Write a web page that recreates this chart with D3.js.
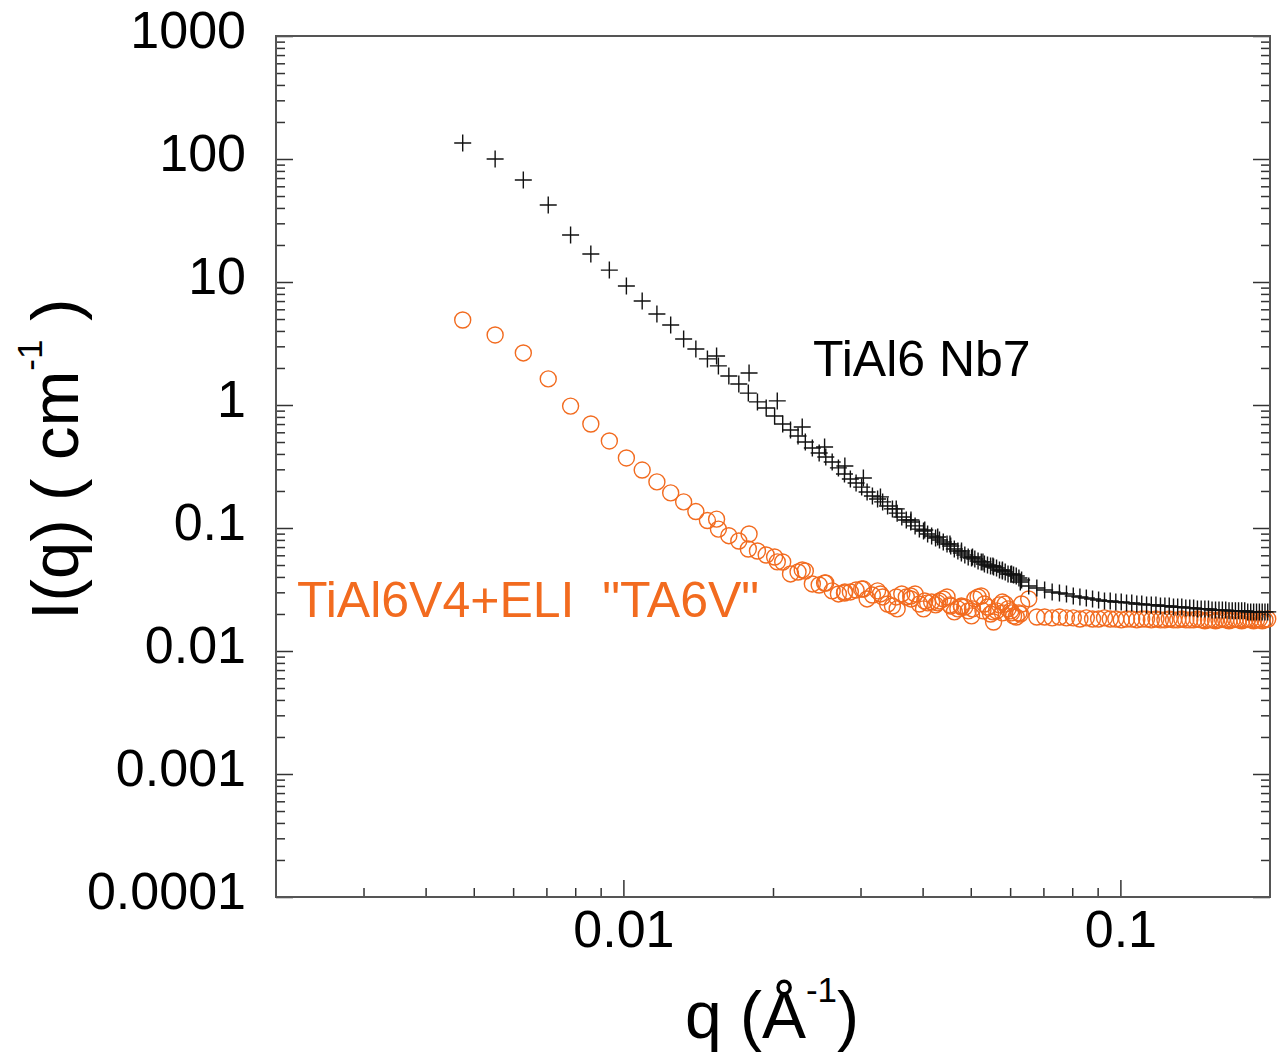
<!DOCTYPE html>
<html>
<head>
<meta charset="utf-8">
<script src="https://cdnjs.cloudflare.com/ajax/libs/d3/7.8.5/d3.min.js"></script>
<style>
  html, body { margin: 0; padding: 0; background: #fff; }
  svg { display: block; font-family: "Liberation Sans", Arial, sans-serif; }
  .tick line { stroke: #333; stroke-width: 1.5; }
</style>
</head>
<body>
<svg id="chart" width="1277" height="1060"></svg>
<script>
// q grid of the low-q configuration (A) and the high-q configuration (B), in 1/Å
const qA = [0.00475, 0.00552, 0.00629, 0.00706, 0.00783, 0.0086, 0.00937, 0.01014, 0.01091, 0.01168,
  0.01245, 0.01322, 0.01399, 0.01476, 0.01553, 0.0163, 0.01707, 0.01784, 0.01861, 0.01938,
  0.02015, 0.02092, 0.02169, 0.02246, 0.02323, 0.024, 0.02477, 0.02554, 0.02631, 0.02708,
  0.02785, 0.02862, 0.02939, 0.03016, 0.03093, 0.0317, 0.03247, 0.03324, 0.03401, 0.03478,
  0.03555, 0.03632, 0.03709, 0.03786, 0.03863, 0.0394, 0.04017, 0.04094, 0.04171, 0.04248,
  0.04325, 0.04402, 0.04479, 0.04556, 0.04633, 0.0471, 0.04787, 0.04864, 0.04941, 0.05018,
  0.05095, 0.05172, 0.05249, 0.05326, 0.05403, 0.0548, 0.05557, 0.05634, 0.05711, 0.05788,
  0.05865, 0.05942, 0.06019, 0.06096, 0.06173, 0.0625, 0.06327];

const qB = [0.0154, 0.0179, 0.0204, 0.0229, 0.0254, 0.0279, 0.0304, 0.0329, 0.0354, 0.0379,
  0.0404, 0.0429, 0.0454, 0.0479, 0.0504, 0.0529, 0.0554, 0.0579, 0.0604, 0.0629,
  0.0654, 0.0679, 0.0704, 0.0729, 0.0754, 0.0779, 0.0804, 0.0829, 0.0854, 0.0879,
  0.0904, 0.0929, 0.0954, 0.0979, 0.1004, 0.1029, 0.1054, 0.1079, 0.1104, 0.1129,
  0.1154, 0.1179, 0.1204, 0.1229, 0.1254, 0.1279, 0.1304, 0.1329, 0.1354, 0.1379,
  0.1404, 0.1429, 0.1454, 0.1479, 0.1504, 0.1529, 0.1554, 0.1579, 0.1604, 0.1629,
  0.1654, 0.1679, 0.1704, 0.1729, 0.1754, 0.1779, 0.1804, 0.1829, 0.1854, 0.1879,
  0.1904, 0.1929, 0.1954, 0.1979];

// TiAl6 Nb7 (black crosses), I(q) in 1/cm
const nbA = [135, 100, 67.5, 42.3, 24.1, 16.9, 12.5, 9.28, 7.01, 5.49,
  4.47, 3.44, 2.85, 2.37, 2.08, 1.72, 1.48, 1.25, 1.06, 0.945,
  0.814, 0.701, 0.626, 0.560, 0.500, 0.447, 0.407, 0.378, 0.344, 0.308,
  0.275, 0.250, 0.232, 0.215, 0.196, 0.182, 0.172, 0.163, 0.151, 0.143,
  0.132, 0.123, 0.116, 0.112, 0.104, 0.098, 0.0946, 0.0894, 0.0861, 0.0830,
  0.0799, 0.0769, 0.0741, 0.0714, 0.0675, 0.0650, 0.0626, 0.0603, 0.0581, 0.0570,
  0.0560, 0.0539, 0.0529, 0.0510, 0.0500, 0.0491, 0.0482, 0.0473, 0.0456, 0.0447,
  0.0439, 0.0423, 0.0420, 0.0415, 0.0407, 0.0392, 0.0378];

const nbB = [2.50, 1.82, 1.08, 0.663, 0.456, 0.319, 0.255, 0.179, 0.143, 0.116,
  0.0964, 0.0845, 0.0741, 0.0650, 0.0581, 0.0530, 0.0491, 0.0456, 0.0423, 0.0364,
  0.0338, 0.0325, 0.0313, 0.0302, 0.0296, 0.0291, 0.0280, 0.0275, 0.0270, 0.0265,
  0.0260, 0.0255, 0.0255, 0.0250, 0.0250, 0.0246, 0.0246, 0.0241, 0.0241, 0.0237,
  0.0237, 0.0237, 0.0232, 0.0232, 0.0232, 0.0228, 0.0228, 0.0228, 0.0224, 0.0224,
  0.0224, 0.0220, 0.0220, 0.0220, 0.0220, 0.0215, 0.0215, 0.0215, 0.0215, 0.0215,
  0.0212, 0.0212, 0.0212, 0.0212, 0.0212, 0.0212, 0.0208, 0.0208, 0.0208, 0.0208,
  0.0208, 0.0208, 0.0208, 0.0208];

// TiAl6V4+ELI "TA6V" (orange circles)
const ta6vA = [4.91, 3.71, 2.65, 1.63, 0.98, 0.701, 0.510, 0.371, 0.296, 0.237,
  0.193, 0.163, 0.136, 0.115, 0.098, 0.0866, 0.0784, 0.0675, 0.0650, 0.0603,
  0.0581, 0.0529, 0.0423, 0.0439, 0.0447, 0.0351, 0.0344, 0.0357, 0.0308, 0.0291,
  0.0296, 0.0302, 0.0313, 0.0319, 0.0265, 0.0285, 0.0308, 0.0275, 0.0241, 0.0232,
  0.0220, 0.0291, 0.0275, 0.0280, 0.0291, 0.0241, 0.0220, 0.0246, 0.0250, 0.0237,
  0.0255, 0.0265, 0.0275, 0.0232, 0.0208, 0.0220, 0.0232, 0.0228, 0.0212, 0.0193,
  0.0265, 0.0275, 0.0280, 0.0241, 0.0228, 0.0200, 0.0172, 0.0212, 0.0237, 0.0250,
  0.0241, 0.0220, 0.0212, 0.0193, 0.0189, 0.0204, 0.0241];

const ta6vB = [0.118, 0.0894, 0.053, 0.0456, 0.0357, 0.0302, 0.0319, 0.0291, 0.0275, 0.0265,
  0.0255, 0.0246, 0.0237, 0.0228, 0.0220, 0.0212, 0.0208, 0.0204, 0.0204, 0.0200,
  0.0265, 0.0189, 0.0189, 0.0186, 0.0189, 0.0186, 0.0186, 0.0182, 0.0186, 0.0182,
  0.0182, 0.0186, 0.0182, 0.0182, 0.0179, 0.0182, 0.0182, 0.0179, 0.0182, 0.0182,
  0.0179, 0.0182, 0.0179, 0.0179, 0.0182, 0.0179, 0.0179, 0.0182, 0.0179, 0.0179,
  0.0179, 0.0182, 0.0179, 0.0176, 0.0179, 0.0179, 0.0176, 0.0179, 0.0182, 0.0179,
  0.0176, 0.0179, 0.0182, 0.0179, 0.0176, 0.0179, 0.0182, 0.0179, 0.0176, 0.0179,
  0.0182, 0.0176, 0.0179, 0.0182];

const yTicks = [1e-4, 1e-3, 1e-2, 1e-1, 1, 10, 100, 1000];
const yTickLabels = ['0.0001', '0.001', '0.01', '0.1', '1', '10', '100', '1000'];
const xTicks = [0.01, 0.1];
const xTickLabels = ['0.01', '0.1'];

const orange = '#f26b1f';
const plotLeft = 276;
const plotRight = 1270;
const plotTop = 36;
const plotBottom = 897;

const svg = d3.select('#chart');

const x = d3.scaleLog().domain([0.002, 0.2]).range([plotLeft, plotRight]);
const y = d3.scaleLog().domain([1e-4, 1000]).range([plotBottom, plotTop]);

function minorValues(scale) {
  const [a, b] = scale.domain();
  const out = [];
  for (let e = Math.floor(Math.log10(a)); e < Math.ceil(Math.log10(b)); e += 1) {
    for (let m = 2; m <= 9; m += 1) {
      const v = m * Math.pow(10, e);
      if (v > a * 1.0001 && v < b * 0.9999) out.push(v);
    }
  }
  return out;
}

// y axes, ticks pointing inward
svg.append('g')
  .attr('transform', `translate(${plotLeft},0)`)
  .call(d3.axisLeft(y).tickValues(minorValues(y)).tickSize(-9).tickFormat(''))
  .call(g => g.select('.domain').remove());

const yAxis = svg.append('g')
  .attr('transform', `translate(${plotLeft},0)`)
  .call(d3.axisLeft(y).tickValues(yTicks).tickSize(-17).tickPadding(30)
    .tickFormat((d, i) => yTickLabels[i]))
  .call(g => g.select('.domain').remove());
yAxis.selectAll('text')
  .attr('dy', '0.22em')
  .attr('fill', '#000')
  .style('font-size', '52px');

svg.append('g')
  .attr('transform', `translate(${plotRight},0)`)
  .call(d3.axisRight(y).tickValues(minorValues(y)).tickSize(-9).tickFormat(''))
  .call(g => g.select('.domain').remove());
svg.append('g')
  .attr('transform', `translate(${plotRight},0)`)
  .call(d3.axisRight(y).tickValues(yTicks).tickSize(-17).tickFormat(''))
  .call(g => g.select('.domain').remove());

// x axis
svg.append('g')
  .attr('transform', `translate(0,${plotBottom})`)
  .call(d3.axisBottom(x).tickValues(minorValues(x)).tickSize(-9).tickFormat(''))
  .call(g => g.select('.domain').remove());
const xAxis = svg.append('g')
  .attr('transform', `translate(0,${plotBottom})`)
  .call(d3.axisBottom(x).tickValues(xTicks).tickSize(-17).tickPadding(13)
    .tickFormat((d, i) => xTickLabels[i]))
  .call(g => g.select('.domain').remove());
xAxis.selectAll('text')
  .attr('fill', '#000')
  .style('font-size', '52px');

svg.selectAll('g').attr('font-family', null).attr('font-size', null);

// frame
svg.append('rect')
  .attr('x', plotLeft)
  .attr('y', plotTop)
  .attr('width', plotRight - plotLeft)
  .attr('height', plotBottom - plotTop)
  .attr('fill', 'none')
  .attr('stroke', '#555')
  .attr('stroke-width', 2);

// data
const ta6v = qA.map((q, i) => [q, ta6vA[i]]).concat(qB.map((q, i) => [q, ta6vB[i]]));
const nb = qA.map((q, i) => [q, nbA[i]]).concat(qB.map((q, i) => [q, nbB[i]]));

svg.append('g')
  .selectAll('circle')
  .data(ta6v)
  .join('circle')
  .attr('cx', d => x(d[0]))
  .attr('cy', d => y(d[1]))
  .attr('r', 8)
  .attr('fill', 'none')
  .attr('stroke', orange)
  .attr('stroke-width', 1.4);

svg.append('g')
  .selectAll('path')
  .data(nb)
  .join('path')
  .attr('d', d => {
    const cx = x(d[0]);
    const cy = y(d[1]);
    return `M${cx - 8.5},${cy}H${cx + 8.5}M${cx},${cy - 8.5}V${cy + 8.5}`;
  })
  .attr('stroke', '#111')
  .attr('stroke-width', 1.4);

// annotations
svg.append('text')
  .attr('x', 813)
  .attr('y', 376)
  .style('font-size', '50px')
  .attr('fill', '#000')
  .text('TiAl6 Nb7');

svg.append('text')
  .attr('x', 297)
  .attr('y', 617)
  .style('font-size', '50px')
  .style('white-space', 'pre')
  .attr('fill', orange)
  .text('TiAl6V4+ELI  "TA6V"');

// axis titles
const xt = svg.append('text')
  .attr('x', 772)
  .attr('y', 1038)
  .attr('text-anchor', 'middle')
  .style('font-size', '66px')
  .attr('fill', '#000');
xt.append('tspan').text('q (Å');
xt.append('tspan').attr('dy', -36).style('font-size', '35px').text('-1');
xt.append('tspan').attr('dy', 36).text(')');

const yt = svg.append('text')
  .attr('transform', 'translate(78,620) rotate(-90)')
  .attr('text-anchor', 'start')
  .style('font-size', '67px')
  .style('white-space', 'pre')
  .attr('fill', '#000');
yt.append('tspan').text('I(q) ( cm');
yt.append('tspan').attr('dy', -36).style('font-size', '35px').text('-1');
yt.append('tspan').attr('dy', 36).text(' )');
</script>
</body>
</html>
